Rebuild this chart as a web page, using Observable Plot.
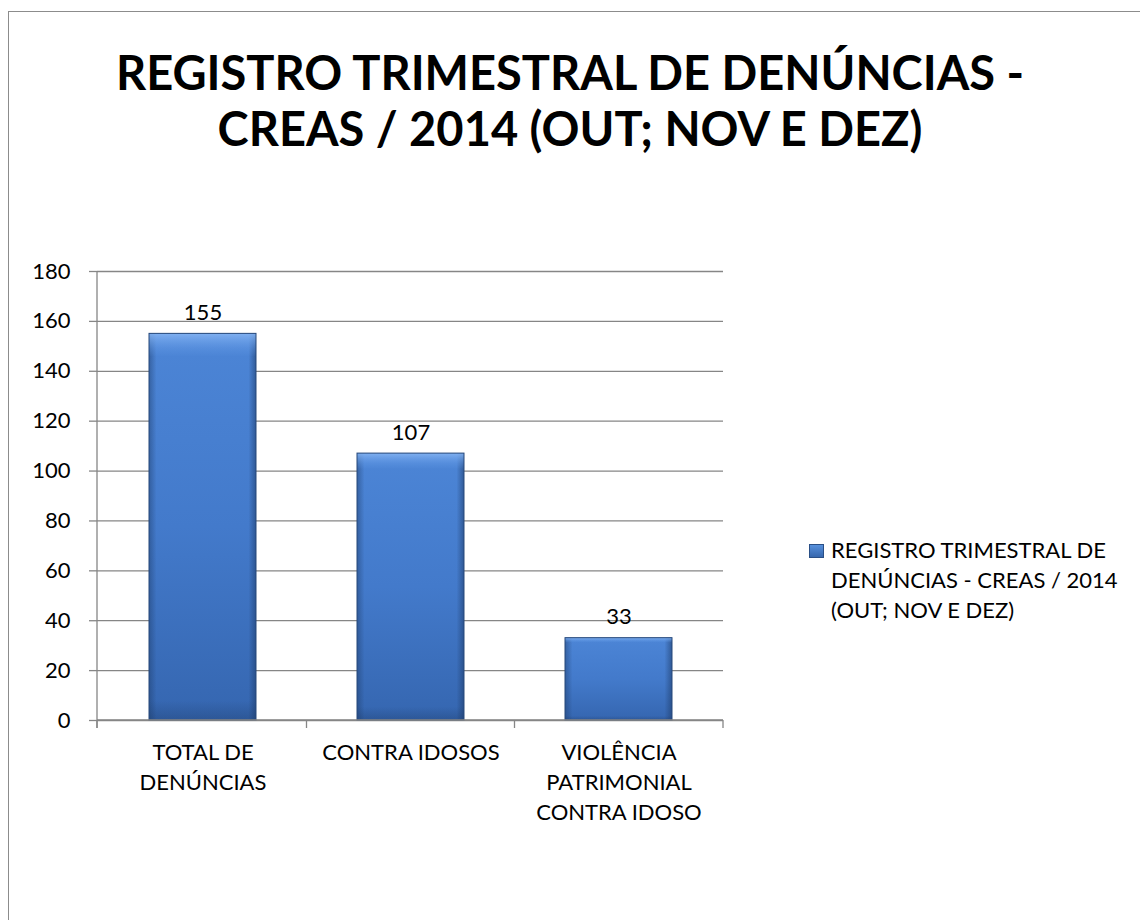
<!DOCTYPE html>
<html><head><meta charset="utf-8">
<script src="https://cdn.jsdelivr.net/npm/d3@7"></script>
<script src="https://cdn.jsdelivr.net/npm/@observablehq/plot@0.6"></script>
<style>
body{margin:0;background:#fff;font-family:Lato,"Open Sans",sans-serif;overflow:hidden}
#page{position:relative;width:1140px;height:920px;overflow:hidden}
#frame{position:absolute;left:8px;top:11px;width:1300px;height:1000px;border:1.5px solid #8c8c8c;box-sizing:border-box}
#title{position:absolute;left:0;top:44px;width:1140px;text-align:center;font-weight:bold;font-size:47px;line-height:56px;color:#000}
#chart{position:absolute;left:0;top:0}
#legend{position:absolute;left:809px;top:535px;font-size:22px;line-height:30px;color:#000}
#legend .sw{position:absolute;left:0;top:9px;width:15px;height:14px;background:linear-gradient(#5a94e0,#3464aa);box-shadow:inset 0 0 0 1px #2a4f86}
#legend .tx{position:absolute;left:22px;top:0;white-space:nowrap}
</style></head>
<body>
<div id="page">
<div id="frame"></div>
<div id="title">REGISTRO TRIMESTRAL DE DENÚNCIAS -<br>CREAS / 2014 (OUT; NOV E DEZ)</div>
<div id="chart"></div>
<div id="legend"><div class="sw"></div><div class="tx">REGISTRO TRIMESTRAL DE<br>DENÚNCIAS - CREAS / 2014<br>(OUT; NOV E DEZ)</div></div>
</div>
<script>
const categories = ["TOTAL DE DENÚNCIAS", "CONTRA IDOSOS", "VIOLÊNCIA PATRIMONIAL CONTRA IDOSO"];
const values = [155, 107, 33];
const tickLabels = ["TOTAL DE\nDENÚNCIAS", "CONTRA IDOSOS", "VIOLÊNCIA\nPATRIMONIAL\nCONTRA IDOSO"];
const yTicks = [0, 20, 40, 60, 80, 100, 120, 140, 160, 180];

const data = categories.map((c, i) => ({cat: c, value: values[i]}));
const labelOf = new Map(categories.map((c, i) => [c, tickLabels[i]]));
const axisColor = "#868686";

const axesMark = (index, scales, vals, dims) => {
  const g = d3.create("svg:g").attr("stroke", axisColor).attr("stroke-width", 1.3);
  const x0 = dims.marginLeft, x1 = dims.width - dims.marginRight;
  const yb = dims.height - dims.marginBottom, yt = dims.marginTop;
  g.append("line").attr("x1", x0).attr("x2", x0).attr("y1", yt).attr("y2", yb + 8);
  g.append("line").attr("x1", x0).attr("x2", x1).attr("y1", yb).attr("y2", yb);
  const xs = scales.x;
  const bw = xs.bandwidth ? xs.bandwidth() : 0;
  const centers = categories.map(c => xs(c) + bw / 2);
  const bounds = [x0];
  for (let i = 1; i < centers.length; i++) bounds.push((centers[i - 1] + centers[i]) / 2);
  bounds.push(x1);
  for (const b of bounds) g.append("line").attr("x1", b).attr("x2", b).attr("y1", yb).attr("y2", yb + 8);
  return g.node();
};

const chart = Plot.plot({
  width: 1140,
  height: 920,
  marginLeft: 97,
  marginRight: 417,
  marginTop: 271,
  marginBottom: 200,
  style: {fontFamily: "Lato, 'Open Sans', sans-serif", fontSize: "22px", color: "#000", background: "transparent"},
  x: {domain: categories, paddingInner: 0.487, paddingOuter: 0.2435},
  y: {domain: [0, 180]},
  marks: [
    Plot.gridY(yTicks, {stroke: axisColor, strokeOpacity: 1, strokeWidth: 1.3}),
    Plot.axisY({ticks: yTicks, tickSize: 8, tickPadding: 19, stroke: axisColor, strokeWidth: 1.3, fill: "#000", fontSize: 22, label: null}),
    Plot.axisX({tickSize: 0, tickPadding: 18, fill: "#000", fontSize: 22, lineHeight: 1.36, label: null, tickFormat: d => labelOf.get(d)}),
    Plot.barY(data, {x: "cat", y: "value", fill: "url(#barGrad)"}),
    Plot.barY(data, {x: "cat", y: "value", fill: "url(#sideGrad)"}),
    Plot.barY(data, {x: "cat", y: "value", fill: "url(#topGrad)", stroke: "#27487a", strokeWidth: 1}),
    Plot.text(data, {x: "cat", y: "value", text: d => String(d.value), dy: -21, fontSize: 22, fill: "#000"}),
    axesMark
  ]
});

const svg = d3.select(chart);
const defs = svg.insert("defs", ":first-child");
const g1 = defs.append("linearGradient").attr("id", "barGrad").attr("x1", 0).attr("y1", 0).attr("x2", 0).attr("y2", 1);
[[0, "#4c85d6"], [0.5, "#437acb"], [1, "#3566b0"]].forEach(([o, c]) => g1.append("stop").attr("offset", o).attr("stop-color", c));
const g2 = defs.append("linearGradient").attr("id", "sideGrad").attr("x1", 0).attr("y1", 0).attr("x2", 1).attr("y2", 0);
[[0, "#1d3a66", 0.45], [0.07, "#1d3a66", 0], [0.93, "#1d3a66", 0], [1, "#1d3a66", 0.55]].forEach(([o, c, a]) => g2.append("stop").attr("offset", o).attr("stop-color", c).attr("stop-opacity", a));
const g3 = defs.append("linearGradient").attr("id", "topGrad").attr("x1", 0).attr("y1", 0).attr("x2", 0).attr("y2", 1);
[[0, "#8ab8f5", 0.85], [0.04, "#6aa0ea", 0.3], [0.06, "#6aa0ea", 0], [0.95, "#1d3a66", 0], [1, "#1d3a66", 0.35]].forEach(([o, c, a]) => g3.append("stop").attr("offset", o).attr("stop-color", c).attr("stop-opacity", a));

document.getElementById("chart").append(chart);
</script>
</body></html>
